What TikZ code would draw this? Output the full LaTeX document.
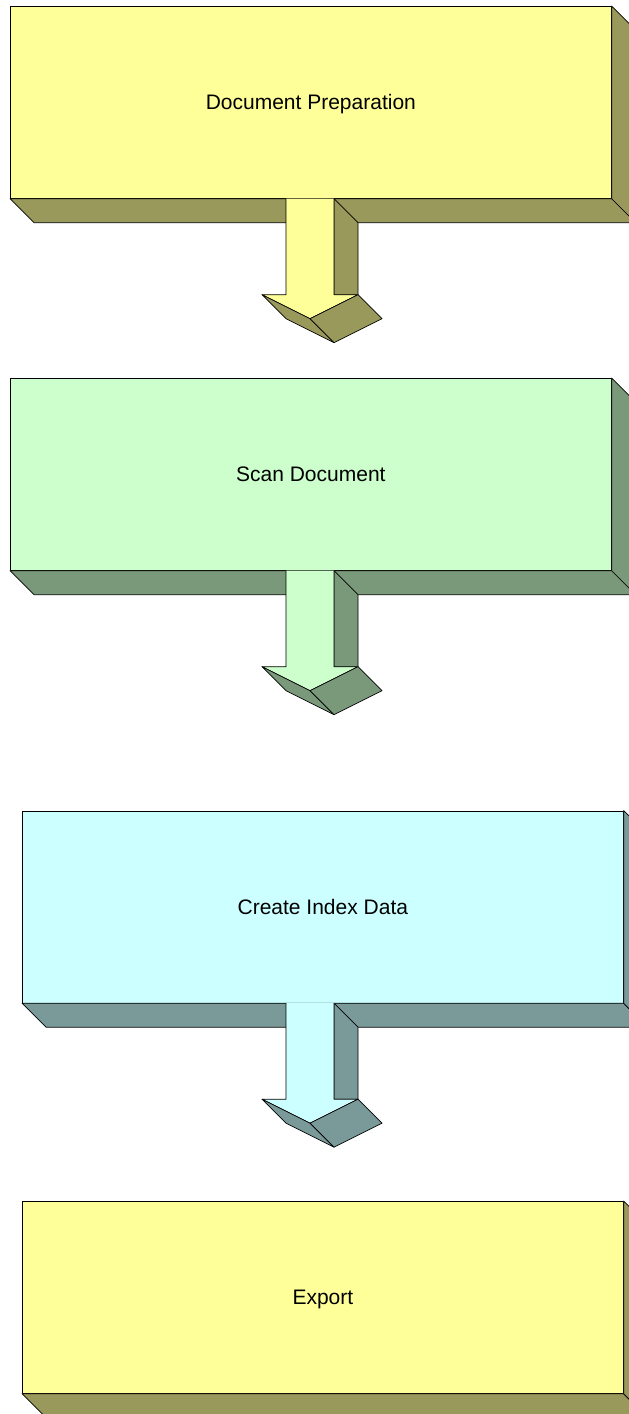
\documentclass[tikz,border=0pt]{standalone}
\usepackage{fontspec}
\setmainfont{Liberation Sans}
\usetikzlibrary{calc}

\definecolor{paleyellow}{HTML}{FFFF99}
\definecolor{oliveshade}{HTML}{99995C}
\definecolor{palegreen}{HTML}{CCFFCC}
\definecolor{greenshade}{HTML}{7A997A}
\definecolor{palecyan}{HTML}{CCFFFF}
\definecolor{cyanshade}{HTML}{7A9999}

\tikzset{
  outline/.style={draw=black, line width=0.7pt, line join=round},
  stage/.style={outline, rectangle, anchor=north west, inner sep=0pt,
    minimum width=601pt, minimum height=192pt,
    text height=15pt, text depth=0pt,
    font=\fontsize{21}{24}\selectfont},
}

% extruded bottom and right faces of a stage block
\newcommand{\stagedepth}[2]{%
  \draw[outline, fill=#2] (#1.south west) -- ++(24,24)
    -- ($(#1.south east)+(24,24)$) -- (#1.south east) -- cycle;
  \draw[outline, fill=#2] (#1.north east) -- ++(24,24)
    -- ($(#1.south east)+(24,24)$) -- (#1.south east) -- cycle;
}

% extruded down arrow hanging from the bottom of a stage block
\newcommand{\stagearrow}[3]{%
  \begin{scope}[shift={(axis |- #1.south)}]
    \draw[outline, fill=#3] (24,0) -- (48,24) -- (48,96) -- (24,96) -- cycle;
    \draw[outline, fill=#2] (-24,0) -- (-24,96) -- (-48,96) -- (0,120)
      -- (48,96) -- (24,96) -- (24,0);
    \draw[outline, fill=#3] (-48,96) -- (-24,120) -- (24,144) -- (0,120) -- cycle;
    \draw[outline, fill=#3] (0,120) -- (48,96) -- (72,120) -- (24,144) -- cycle;
  \end{scope}
}

\begin{document}
\begin{tikzpicture}[x=1pt, y=-1pt]
  \useasboundingbox (0,0) rectangle (629,1414);
  \clip (0,0) rectangle (629,1414);
  \coordinate (axis) at (310,0);

  \node[stage, fill=paleyellow] (prep) at (10,6) {Document Preparation};
  \stagedepth{prep}{oliveshade}
  \stagearrow{prep}{paleyellow}{oliveshade}

  \node[stage, fill=palegreen] (scan) at (10,378) {Scan Document};
  \stagedepth{scan}{greenshade}
  \stagearrow{scan}{palegreen}{greenshade}

  \node[stage, fill=palecyan] (index) at (22,810.5) {Create Index Data};
  \stagedepth{index}{cyanshade}
  \stagearrow{index}{palecyan}{cyanshade}

  \node[stage, fill=paleyellow] (export) at (22,1201) {Export};
  \stagedepth{export}{oliveshade}
\end{tikzpicture}
\end{document}
